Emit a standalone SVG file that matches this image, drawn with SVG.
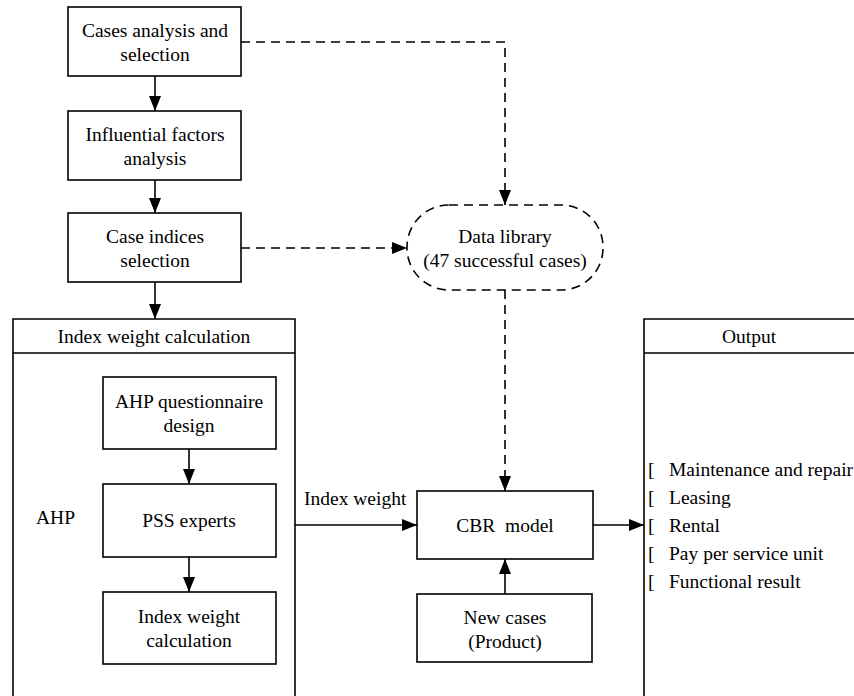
<svg xmlns="http://www.w3.org/2000/svg" width="854" height="696" viewBox="0 0 854 696">
<defs>
<marker id="ah" viewBox="0 0 15 12" refX="15" refY="6" markerWidth="15" markerHeight="12" markerUnits="userSpaceOnUse" orient="auto">
<path d="M0,0 L15,6 L0,12 Z" fill="#000"/>
</marker>
<style>
text{font-family:"Liberation Serif","Times New Roman",serif;font-size:19.5px;fill:#000}
.t{text-anchor:middle}
.b{fill:#fff;stroke:#000;stroke-width:1.6}
.c{fill:none;stroke:#000;stroke-width:1.6}
.d{fill:none;stroke:#000;stroke-width:1.6;stroke-dasharray:9,6}
</style>
</defs>
<rect width="854" height="696" fill="#fff"/>
<g id="n1"><rect class="b" x="68" y="7" width="173" height="69"/><text class="t" x="155" y="37">Cases analysis and</text><text class="t" x="155" y="61">selection</text></g>
<g id="n2"><rect class="b" x="68" y="111" width="173" height="69"/><text class="t" x="155" y="141">Influential factors</text><text class="t" x="155" y="165">analysis</text></g>
<g id="n3"><rect class="b" x="68" y="213" width="173" height="69"/><text class="t" x="155" y="243">Case indices</text><text class="t" x="155" y="267">selection</text></g>
<g id="lib"><rect x="407" y="205" width="196" height="85" rx="42" ry="42" class="d" fill="#fff"/><text class="t" x="505" y="243">Data library</text><text class="t" x="505" y="267">(47 successful cases)</text></g>
<g id="panel1"><path class="c" d="M13,700 V319 H295 V700 M13,353 H295"/><text class="t" x="154" y="343">Index weight calculation</text><text x="36" y="524">AHP</text></g>
<g id="q"><rect class="b" x="103" y="377" width="173" height="72"/><text class="t" x="189" y="408">AHP questionnaire</text><text class="t" x="189" y="432">design</text></g>
<g id="pss"><rect class="b" x="103" y="484" width="173" height="73"/><text class="t" x="189" y="527">PSS experts</text></g>
<g id="iwc"><rect class="b" x="103" y="592" width="173" height="72"/><text class="t" x="189" y="623">Index weight</text><text class="t" x="189" y="647">calculation</text></g>
<g id="cbr"><rect class="b" x="417" y="491" width="176" height="68"/><text class="t" x="505" y="532" xml:space="preserve">CBR  model</text></g>
<g id="new"><rect class="b" x="417" y="594" width="175" height="68"/><text class="t" x="505" y="624">New cases</text><text class="t" x="505" y="648">(Product)</text></g>
<g id="out"><path class="c" d="M644,700 V319 H860 M644,353 H860"/><text class="t" x="749" y="343">Output</text>
<text x="648" y="476">[</text><text x="669" y="476">Maintenance and repair</text>
<text x="648" y="504">[</text><text x="669" y="504">Leasing</text>
<text x="648" y="532">[</text><text x="669" y="532">Rental</text>
<text x="648" y="560">[</text><text x="669" y="560">Pay per service unit</text>
<text x="648" y="588">[</text><text x="669" y="588">Functional result</text></g>
<g id="connectors">
<line class="c" x1="155" y1="76" x2="155" y2="111" marker-end="url(#ah)"/>
<line class="c" x1="155" y1="180" x2="155" y2="213" marker-end="url(#ah)"/>
<line class="c" x1="155" y1="282" x2="155" y2="319" marker-end="url(#ah)"/>
<line class="c" x1="189" y1="449" x2="189" y2="484" marker-end="url(#ah)"/>
<line class="c" x1="189" y1="557" x2="189" y2="592" marker-end="url(#ah)"/>
<line class="c" x1="505" y1="594" x2="505" y2="559" marker-end="url(#ah)"/>
<line class="c" x1="295" y1="525" x2="417" y2="525" marker-end="url(#ah)"/>
<text x="304" y="505">Index weight</text>
<line class="c" x1="593" y1="525" x2="644" y2="525" marker-end="url(#ah)"/>
<path class="d" d="M241,42 H505 V205" marker-end="url(#ah)"/>
<path class="d" d="M241,248 H407" marker-end="url(#ah)"/>
<path class="d" d="M505,290 V491" marker-end="url(#ah)"/>
</g>
</svg>
